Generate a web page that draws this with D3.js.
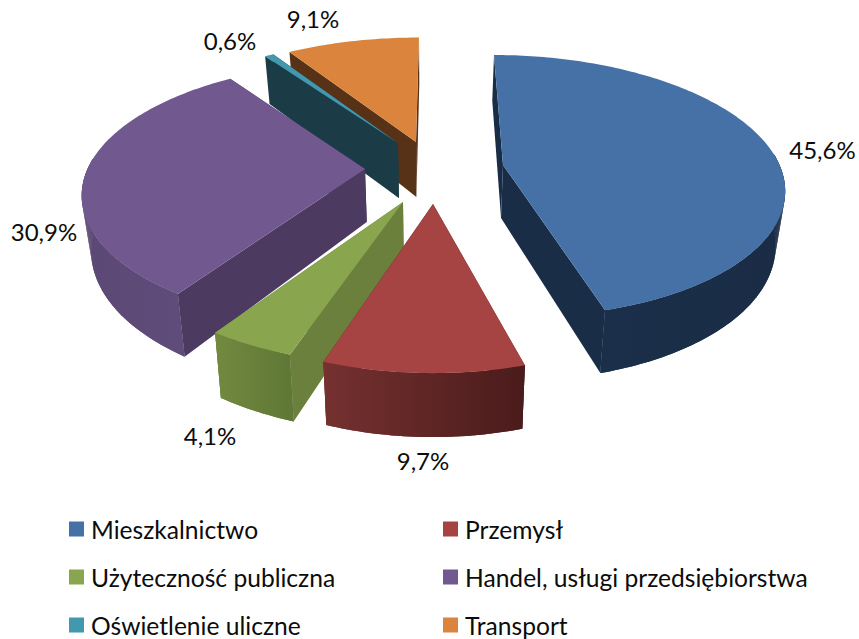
<!DOCTYPE html>
<html><head><meta charset="utf-8">
<script src="https://cdn.jsdelivr.net/npm/d3@7"></script>
<style>html,body{margin:0;padding:0;background:#fff}svg{display:block}text{font-family:Lato,"Open Sans",sans-serif;fill:#0c0c0c}</style>
</head><body><svg id="c" width="859" height="639"></svg>
<script>
const categories = ["Mieszkalnictwo","Przemysł","Użyteczność publiczna","Handel, usługi przedsiębiorstwa","Oświetlenie uliczne","Transport"];
const shares = [45.6,9.7,4.1,30.9,0.6,9.1];
const shareLabels = ["45,6%","9,7%","4,1%","30,9%","0,6%","9,1%"];

// presentation
const topColors = ["#4571a7","#a54442","#89a54e","#71588f","#4198af","#db843d"];
const cutColors = ["#1a2d47","#5a2222","#6a803c","#4c3a60","#1b3c47","#583217"];
const sideStops = [["#1b2f4a","#1a2c45"],["#753130","#4a1b1b"],["#72893f","#5f7836"],["#5c4874","#604c7a"],["#1b3c47","#1b3c47"],["#a8622c","#a8622c"]];
const apexes = [[503,165],[433,204],[403,202],[365,169],[398,143],[416,142]];
const radius = [274,276,285,276,276,276];
const shear = [11.5,0,0,-4.5,-5,-3];
const rimShift = [2.5,0,0,-1.5,0,0];
const persp = [0.161,0.187,0.187,0.187,0.187,0.187];
const tilt = [127.7,137.5,133,127,122,124];
const depth = [53,52,55,53,55,55];
const labelPos = [[822.5,149],[423,460],[210,435],[44,231],[230,40],[313,18]];
const legendPos = [[69,529],[443,529],[69,577],[443,577],[69,625],[443,625]];
const drawOrder = [5,4,3,0,2,1];
const vanishX=430, shrink=0.027;

const svg=d3.select("#c"), defs=svg.append("defs");
const arcs=d3.pie().sort(null).value(d=>d)(shares);
const line=d3.line();
function proj(i,a,r,z){
  const s=r?1/(1+persp[i]*Math.cos(a)):1;
  const x=apexes[i][0]+r*radius[i]*Math.sin(a)*s+(r?rimShift[i]-shear[i]*Math.cos(a):0);
  return [vanishX+(x-vanishX)*(1-shrink*z),
          apexes[i][1]-r*tilt[i]*Math.cos(a)*s+z*depth[i]*s];
}
function sample(a0,a1){return d3.range(0,1.0001,1/Math.max(2,Math.ceil((a1-a0)*57))).map(t=>a0+(a1-a0)*t);}

drawOrder.forEach(i=>{
  const {startAngle:a0,endAngle:a1}=arcs[i], g=svg.append("g");
  const ang=sample(a0,a1);
  [a0,a1].forEach(a=>g.append("path")
    .attr("d",line([proj(i,a,0,0),proj(i,a,1,0),proj(i,a,1,1),proj(i,a,0,1)])+"Z")
    .attr("fill",cutColors[i]));
  const front=ang.filter(a=>Math.cos(a)<0.1);
  if(front.length>1){
    const id="side"+i;
    const grad=defs.append("linearGradient").attr("id",id).attr("gradientUnits","userSpaceOnUse")
      .attr("x1",d3.min(front,a=>proj(i,a,1,0)[0])).attr("x2",d3.max(front,a=>proj(i,a,1,0)[0])).attr("y1",0).attr("y2",0);
    grad.append("stop").attr("offset",0).attr("stop-color",sideStops[i][0]);
    grad.append("stop").attr("offset",1).attr("stop-color",sideStops[i][1]);
    const fill=`url(#${id})`;
    g.append("path")
      .attr("d",line(front.map(a=>proj(i,a,1,0)).concat(front.slice().reverse().map(a=>proj(i,a,1,1))))+"Z")
      .attr("fill",fill);
    d3.pairs(front).forEach(([p,q])=>g.append("path")
      .attr("d",line([proj(i,p,1,0),proj(i,q,1,0),proj(i,q,1,1),proj(i,p,1,1)])+"Z")
      .attr("fill",fill));
  }
  g.append("path")
    .attr("d",line([proj(i,a0,0,0)].concat(ang.map(a=>proj(i,a,1,0))))+"Z")
    .attr("fill",topColors[i]);
});

svg.selectAll("text.v").data(shareLabels).join("text").attr("class","v")
  .attr("x",(d,i)=>labelPos[i][0]).attr("y",(d,i)=>labelPos[i][1])
  .attr("text-anchor","middle").attr("dominant-baseline","central").attr("font-size",24).text(d=>d);
const lg=svg.selectAll("g.l").data(categories).join("g").attr("class","l")
  .attr("transform",(d,i)=>`translate(${legendPos[i][0]},${legendPos[i][1]})`);
lg.append("rect").attr("y",-7.5).attr("width",15).attr("height",15).attr("fill",(d,i)=>topColors[i]);
lg.append("text").attr("x",22).attr("dominant-baseline","central").attr("font-size",24.6).text(d=>d);
</script></body></html>
